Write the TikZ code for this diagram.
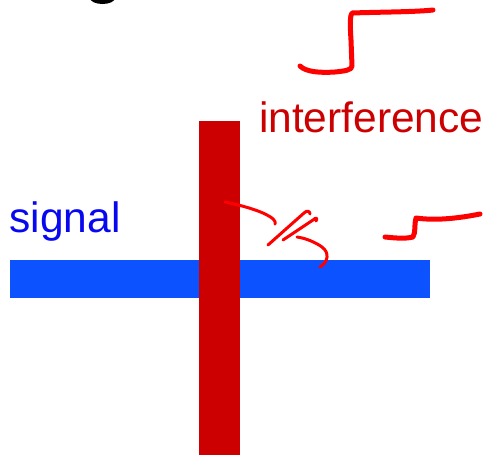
\documentclass[tikz,border=0pt]{standalone}
\usepackage{fontspec}
\setmainfont{Liberation Sans}
\definecolor{barblue}{RGB}{13,82,255}
\definecolor{txtblue}{RGB}{8,8,240}
\definecolor{darkred}{RGB}{204,0,0}
\definecolor{inkred}{RGB}{255,0,0}
\tikzset{
  bar/.style={draw=none, inner sep=0pt, outer sep=0pt, rectangle},
  lbl/.style={inner sep=0pt, outer sep=0pt, anchor=base west, font=\fontsize{42.5}{50}\selectfont},
  ink/.style={draw=inkred, line width=5pt, line cap=round, line join=round},
  thinink/.style={draw=inkred, line width=3pt, line cap=round, line join=round}
}
\begin{document}
\begin{tikzpicture}[x=1pt,y=-1pt]
\useasboundingbox (0,0) rectangle (485,456);
% fragment of a glyph cut off at the top edge
\begin{scope}
  \clip (0,0) rectangle (485,10);
  \fill[black] (102.5,-2) ellipse [x radius=12.5, y radius=6];
\end{scope}
% bars
\node[bar, fill=barblue, minimum width=420pt, minimum height=38pt] (signalbar) at (220,279) {};
\node[bar, fill=darkred, minimum width=41pt, minimum height=334pt] (intbar) at (219.5,288) {};
% labels
\node[lbl, text=txtblue] (signal) at (9.5,232) {signal};
\node[lbl, text=darkred] (interference) at (259,132) {interference};
% top hand-drawn step
\draw[ink] (300,66) .. controls (306,72) and (320,73) .. (335,72)
  .. controls (345,71) and (352,70) .. (352,66)
  -- (351,40) .. controls (350,25) and (350,15) .. (352,13)
  .. controls (380,12) and (415,12) .. (433,10);
% right hand-drawn step
\draw[ink] (385,237) .. controls (395,238) and (405,239) .. (413,237)
  .. controls (416,232) and (414,224) .. (416,218)
  .. controls (430,220) and (450,220) .. (480,214);
% strokes near the crossing
\draw[thinink] (225,202) .. controls (240,205) and (258,210) .. (267,215)
  .. controls (273,218) and (276,221) .. (275,224);
\draw[thinink] (268,245) -- (304,213) .. controls (307,210) and (310,211) .. (310,214);
\draw[thinink] (283,240) -- (313,220) .. controls (316,217) and (318,218) .. (316,221);
\draw[thinink] (297,237) .. controls (305,238) and (315,242) .. (322,247)
  .. controls (330,253) and (328,262) .. (320,267);
\end{tikzpicture}
\end{document}
